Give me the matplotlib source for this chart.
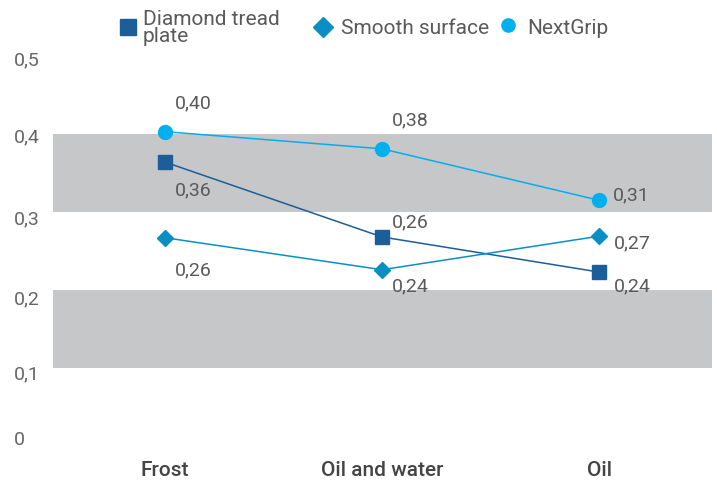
import matplotlib
matplotlib.use("Agg")
import matplotlib.pyplot as plt
from matplotlib.lines import Line2D
from matplotlib.transforms import ScaledTranslation

categories = ["Frost", "Oil and water", "Oil"]
diamond_tread = [0.364, 0.268, 0.223]
smooth_surface = [0.267, 0.226, 0.269]
nextgrip = [0.403, 0.381, 0.315]
diamond_labels = ["0,36", "0,26", "0,24"]
smooth_labels = ["0,26", "0,24", "0,27"]
nextgrip_labels = ["0,40", "0,38", "0,31"]
series_names = ["Diamond tread\nplate", "Smooth surface", "NextGrip"]
yticks = [0, 0.1, 0.2, 0.3, 0.4, 0.5]
ytick_labels = ["0", "0,1", "0,2", "0,3", "0,4", "0,5"]
bands = [(0.1, 0.2), (0.3, 0.4)]

plt.rcParams['font.family'] = ['Roboto', 'DejaVu Sans']

W, H = 717, 480
fig = plt.figure(figsize=(W/100, H/100), dpi=100)
ax = fig.add_axes([53/W, 1-446/H, (712-53)/W, (446-56)/H])

for lo, hi in bands:
    ax.axhspan(lo, hi, color="#c6c7c9", lw=0, zorder=0)

c_sq = "#1b5e99"
c_di = "#0a8fc4"
c_ci = "#00b0ee"
x = list(range(len(categories)))

ax.plot(x, diamond_tread, color=c_sq, lw=1.1, marker='s', ms=9.5, zorder=3)
ax.plot(x, smooth_surface, color=c_di, lw=1.1, marker='D', ms=8.5, zorder=3)
ax.plot(x, nextgrip, color=c_ci, lw=1.1, marker='o', ms=10, zorder=3)

lab_color = "#5a5a5a"
fs = 14
def ann(xs, ys, labels, offsets):
    for xi, yi, t, (dx, dy) in zip(xs, ys, labels, offsets):
        ax.annotate(t, (xi, yi), xytext=(dx, dy), textcoords='offset pixels',
                    ha='center', va='center', fontsize=fs, color=lab_color, zorder=4)

ann(x, nextgrip, nextgrip_labels, [(28, 28), (28, 28), (32, 5)])
ann(x, diamond_tread, diamond_labels, [(28, -28), (28, 15), (33, -14)])
ann(x, smooth_surface, smooth_labels, [(28, -33), (28, -17), (33, -7)])

ax.set_xlim(-0.516, 2.52)
ax.set_ylim(0, 0.5)
ax.set_yticks(yticks)
ax.set_yticklabels(ytick_labels, fontsize=fs, color="#666666")
ax.set_xticks(x)
ax.set_xticklabels(categories, fontsize=15, color="#444444", fontweight='medium')
ax.tick_params(axis='both', length=0)
ax.tick_params(axis='y', pad=28)
ytick_shift_px = [8, -4, -7, -5, -1, -2]
for lbl, d in zip(ax.get_yticklabels(), ytick_shift_px):
    lbl.set_horizontalalignment('left')
    lbl.set_transform(lbl.get_transform() + ScaledTranslation(0, d/100, fig.dpi_scale_trans))
ax.tick_params(axis='x', pad=11)
for s in ax.spines.values():
    s.set_visible(False)

# legend drawn manually (positions in pixels)
leg_items = [
    ('s', 11.5, c_sq, 128, 27, 143),
    ('D', 10.5, c_di, 323, 27, 341),
    ('o', 9.5, c_ci, 508, 25, 527),
]
for (mk, ms, col, mx, my, tx), name in zip(leg_items, series_names):
    fig.add_artist(Line2D([mx/W], [1-my/H], ls='none', marker=mk, ms=ms, color=col,
                          transform=fig.transFigure))
    fig.text(tx/W, 1-28/H, name, ha='left', va='center', fontsize=15,
             color="#5a5a5a", linespacing=0.9)

fig.savefig("out.png", dpi=100)
